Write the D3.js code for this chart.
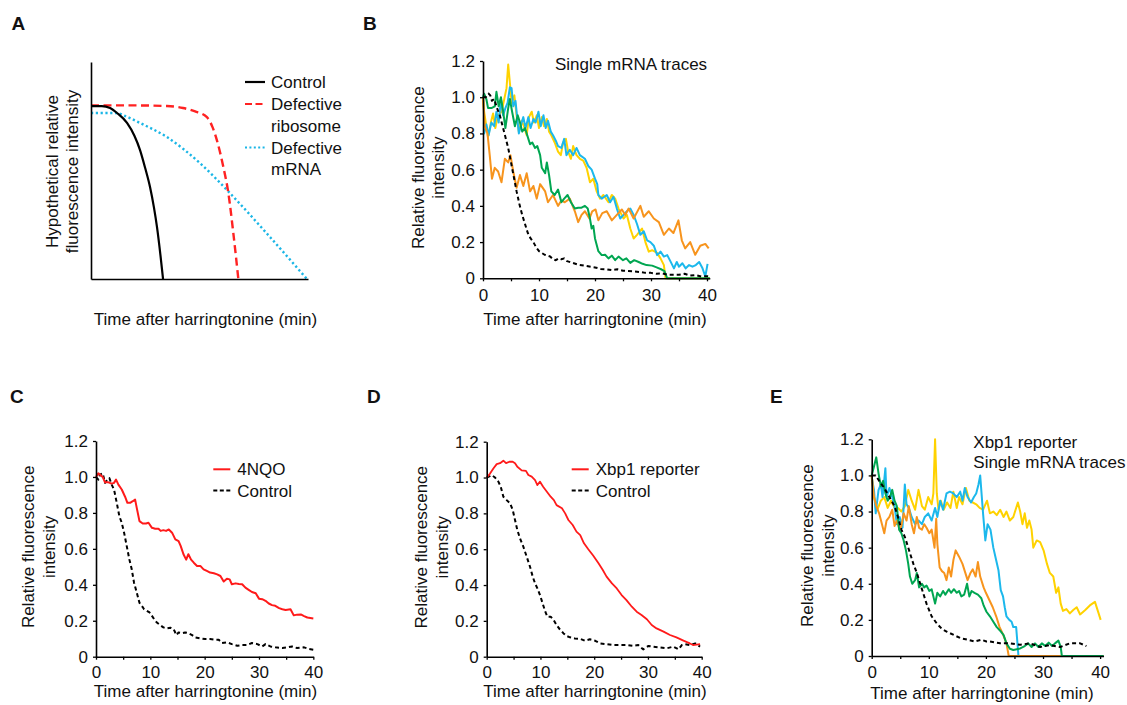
<!DOCTYPE html>
<html>
<head>
<meta charset="utf-8">
<script src="https://cdn.jsdelivr.net/npm/d3@7"></script>
<style>
  body { margin: 0; background: #fff; }
  svg text { font-family: "Liberation Sans", Arial, sans-serif; fill: #111; }
</style>
</head>
<body>
<svg id="fig" width="1127" height="705"></svg>
<script>
// ---- data ----
// panel A (hypothetical curves, x in % of time axis, y relative)
const aControl  = [[0,0.797],[5,0.797],[8.8,0.788],[12,0.765],[16.6,0.719],[20,0.66],[22.6,0.594],[25,0.51],[27.2,0.424],[29,0.33],[30.4,0.24],[32,0.11],[33.2,0]];
const aRibosome = [[0,0.8],[19.6,0.8],[35,0.797],[42.4,0.788],[48,0.772],[53.3,0.747],[56,0.70],[58,0.64],[61,0.516],[63.3,0.396],[65.6,0.21],[67.9,0]];
const aMRNA     = [[0,0.765],[11.9,0.765],[16,0.75],[22.6,0.719],[35,0.654],[50.2,0.534],[64,0.396],[81,0.21],[99.5,0]];
const aLegend   = ['Control', 'Defective', 'ribosome', 'Defective', 'mRNA'];

// panel B single traces [min, rel. intensity]
const bControl = [[0,1.0],[0.5,1.0],[1,1.02],[1.3,1.01],[1.6,0.98],[2,0.99],[2.5,0.94],[3,0.9],[3.5,0.84],[4,0.78],[4.5,0.72],[5,0.64],[5.5,0.56],[6,0.48],[6.5,0.41],[7,0.35],[7.5,0.3],[8,0.25],[8.5,0.22],[9,0.2],[9.5,0.17],[10,0.15],[10.5,0.14],[11,0.13],[12,0.12],[12.5,0.105],[13,0.1],[13.5,0.11],[14,0.105],[14.5,0.11],[15,0.095],[16,0.085],[17,0.075],[18,0.07],[19,0.065],[20,0.06],[21,0.052],[22,0.05],[23,0.045],[24,0.05],[25,0.042],[26,0.04],[27,0.038],[28,0.035],[29,0.03],[30,0.03],[31,0.025],[32,0.027],[33,0.02],[34,0.02],[35,0.02],[36,0.025],[37,0.015],[38,0.018],[39,0.01],[40,0.012],[40.5,0.01]];
const bOrange = [[0,1.0],[0.3,0.84],[0.8,0.80],[1.2,0.68],[1.6,0.55],[2.1,0.61],[2.7,0.59],[3.3,0.53],[3.9,0.66],[4.5,0.64],[4.9,0.68],[5.4,0.59],[6.0,0.50],[6.6,0.57],[7.2,0.51],[7.8,0.58],[8.4,0.48],[9.0,0.51],[9.6,0.44],[10.2,0.52],[11.1,0.48],[11.6,0.42],[12.5,0.46],[13.4,0.40],[14.0,0.43],[14.6,0.42],[15.5,0.44],[16.4,0.37],[17.0,0.31],[17.6,0.35],[18.2,0.37],[19.0,0.33],[19.5,0.37],[20.1,0.38],[20.6,0.32],[21.3,0.36],[22.1,0.37],[23.0,0.32],[23.9,0.35],[24.8,0.38],[25.4,0.35],[26.0,0.385],[26.9,0.33],[28.1,0.40],[28.7,0.34],[29.6,0.37],[30.5,0.33],[31.4,0.31],[32.3,0.24],[33.2,0.275],[34.0,0.25],[34.9,0.32],[35.5,0.21],[36.1,0.165],[37.0,0.2],[37.9,0.13],[38.8,0.18],[39.7,0.19],[40.3,0.165]];
const bGreen = [[0,1.0],[0.2,1.02],[0.6,0.99],[0.9,0.94],[1.5,0.94],[2.1,0.95],[2.4,1.03],[2.8,0.95],[3.2,1.0],[3.6,0.92],[4.0,0.83],[4.5,0.94],[4.8,0.99],[5.2,0.92],[5.7,0.84],[6.2,0.90],[6.6,0.86],[7.0,0.81],[7.5,0.83],[8.1,0.77],[8.4,0.74],[8.8,0.75],[9.3,0.72],[9.7,0.73],[10.2,0.68],[10.5,0.61],[11.1,0.58],[11.4,0.64],[11.8,0.57],[12.2,0.48],[12.8,0.46],[13.4,0.49],[14.0,0.42],[14.5,0.44],[15.1,0.46],[15.7,0.42],[16.4,0.385],[17.0,0.39],[17.6,0.39],[18.2,0.40],[18.7,0.385],[19.1,0.33],[19.4,0.275],[19.7,0.29],[20.0,0.22],[20.6,0.15],[21.2,0.128],[21.8,0.13],[22.4,0.11],[23.0,0.125],[23.6,0.1],[24.2,0.12],[25.0,0.1],[25.6,0.11],[26.3,0.085],[27.0,0.1],[27.8,0.09],[28.5,0.08],[29.2,0.073],[30.2,0.07],[31.0,0.06],[31.8,0.05],[32.4,0.04],[32.9,0],[40.5,0]];
const bYellow = [[0,1.0],[0.2,0.92],[0.5,0.86],[0.9,0.78],[1.4,0.86],[1.8,0.91],[2.2,0.83],[2.7,0.90],[3.3,0.92],[3.8,0.99],[4.2,1.05],[4.5,1.18],[4.8,1.08],[5.1,0.97],[5.6,1.01],[6.0,0.90],[6.4,0.81],[6.9,0.87],[7.3,0.84],[7.8,0.79],[8.2,0.89],[8.7,0.92],[9.1,0.86],[9.6,0.90],[10.0,0.83],[10.5,0.89],[10.9,0.84],[11.4,0.88],[11.8,0.81],[12.2,0.79],[12.8,0.75],[13.4,0.70],[13.9,0.68],[14.3,0.75],[14.8,0.77],[15.2,0.70],[15.7,0.66],[16.1,0.73],[16.7,0.68],[17.3,0.66],[17.9,0.65],[18.5,0.61],[19.1,0.53],[19.7,0.55],[20.3,0.48],[20.9,0.44],[21.5,0.46],[22.4,0.42],[23.0,0.46],[23.6,0.44],[24.2,0.385],[25.1,0.33],[25.7,0.35],[26.3,0.275],[26.9,0.22],[27.5,0.24],[28.4,0.275],[29.0,0.2],[29.6,0.147],[30.2,0.155],[31.1,0.14],[31.7,0.11],[32.3,0.073],[32.6,0],[40.5,0]];
const bCyan = [[0,0.8],[0.2,0.80],[0.6,0.85],[1.0,0.79],[1.5,0.86],[2.0,0.84],[2.4,0.92],[2.8,0.86],[3.2,0.99],[3.6,0.90],[4.0,0.94],[4.4,0.97],[4.8,1.055],[5.1,1.05],[5.4,0.95],[5.8,0.98],[6.2,0.86],[6.4,0.80],[6.9,0.86],[7.2,0.89],[7.6,0.83],[8.1,0.89],[8.5,0.83],[9.0,0.88],[9.4,0.86],[9.9,0.92],[10.3,0.84],[10.8,0.90],[11.2,0.83],[11.6,0.87],[12.1,0.81],[12.5,0.79],[13.0,0.76],[13.4,0.73],[14.0,0.72],[14.5,0.77],[14.9,0.68],[15.5,0.71],[16.1,0.68],[16.7,0.72],[17.3,0.68],[18.2,0.66],[18.8,0.62],[19.4,0.60],[20.0,0.55],[20.4,0.52],[20.6,0.46],[21.2,0.44],[22.1,0.46],[22.7,0.42],[23.3,0.45],[23.9,0.385],[24.5,0.33],[25.1,0.35],[25.7,0.37],[26.3,0.385],[26.9,0.35],[27.5,0.30],[28.1,0.24],[28.7,0.26],[29.3,0.21],[29.9,0.2],[30.5,0.18],[31.1,0.128],[31.7,0.147],[32.3,0.12],[32.9,0.128],[33.5,0.092],[34.1,0.055],[34.6,0.09],[35.0,0.064],[35.6,0.083],[36.2,0.055],[36.8,0.073],[37.4,0.064],[38.0,0.073],[38.6,0.09],[39.2,0.055],[39.7,0.01],[40.1,0.08]];

// panel C averages
const c4NQO = [[0,1.0],[0.43,1.02],[0.86,1.01],[1.23,1.0],[1.66,0.97],[2.28,0.97],[2.89,0.963],[3.32,0.967],[3.69,0.985],[4.12,0.957],[4.74,0.93],[5.35,0.89],[5.78,0.856],[6.28,0.856],[6.77,0.865],[7.2,0.874],[7.5,0.828],[8.0,0.754],[8.6,0.741],[9.2,0.741],[9.66,0.745],[10.3,0.717],[10.9,0.712],[11.5,0.712],[11.9,0.70],[12.4,0.704],[12.9,0.70],[13.4,0.708],[14.0,0.69],[14.6,0.653],[15.2,0.643],[15.6,0.615],[16.1,0.57],[16.6,0.54],[17.0,0.57],[17.5,0.54],[18.0,0.523],[18.6,0.505],[19.2,0.505],[19.8,0.486],[20.4,0.477],[21.0,0.468],[21.7,0.464],[22.3,0.458],[22.9,0.449],[23.5,0.418],[24.1,0.434],[24.6,0.43],[25.0,0.403],[25.7,0.408],[26.3,0.405],[26.9,0.403],[27.5,0.384],[28.1,0.372],[28.7,0.36],[29.4,0.353],[30.0,0.323],[30.6,0.32],[31.2,0.311],[31.8,0.296],[32.4,0.287],[33.0,0.283],[33.7,0.27],[34.3,0.264],[34.9,0.26],[35.8,0.264],[36.4,0.23],[37.0,0.234],[37.7,0.235],[38.3,0.226],[38.9,0.218],[40.0,0.213]];
const cControl = [[0,1.0],[0.43,0.985],[0.74,1.013],[1.23,1.02],[1.66,0.967],[2.09,0.985],[2.46,0.994],[2.89,0.957],[3.32,0.93],[3.82,0.856],[4.31,0.78],[4.74,0.745],[5.17,0.69],[5.66,0.615],[6.15,0.54],[6.58,0.486],[7.0,0.412],[7.5,0.357],[8.0,0.30],[8.43,0.283],[8.86,0.264],[9.35,0.255],[9.85,0.246],[10.3,0.227],[10.7,0.209],[11.2,0.19],[11.8,0.176],[12.4,0.163],[13.0,0.157],[13.7,0.161],[14.3,0.153],[14.8,0.12],[15.2,0.135],[15.8,0.131],[16.4,0.135],[17.0,0.131],[17.7,0.12],[18.3,0.107],[19.2,0.102],[20.1,0.098],[21.0,0.098],[22.0,0.094],[22.6,0.094],[23.2,0.076],[24.1,0.08],[25.0,0.07],[26.0,0.061],[26.9,0.065],[27.8,0.065],[28.7,0.076],[29.7,0.07],[30.6,0.057],[31.2,0.07],[32.1,0.057],[33.0,0.052],[34.3,0.048],[35.2,0.052],[36.1,0.057],[37.0,0.048],[38.3,0.052],[39.2,0.043],[40.0,0.039]];

// panel D averages
const dXbp1 = [[0,1.0],[0.62,1.022],[1.24,1.05],[1.86,1.075],[2.48,1.08],[3.1,1.094],[3.6,1.08],[4.22,1.088],[4.84,1.088],[5.27,1.08],[5.7,1.06],[6.5,1.04],[7.3,1.037],[7.75,1.014],[8.37,1.005],[9.0,0.986],[9.43,0.958],[9.92,0.977],[10.5,0.949],[11.2,0.921],[11.9,0.893],[12.5,0.874],[13.0,0.846],[14.0,0.828],[14.6,0.80],[15.2,0.763],[16.0,0.735],[16.7,0.698],[17.4,0.679],[18.1,0.633],[18.9,0.6],[19.8,0.565],[20.8,0.521],[21.6,0.484],[22.3,0.447],[23.3,0.409],[24.2,0.381],[25.1,0.344],[26.0,0.316],[27.0,0.279],[27.9,0.251],[28.8,0.233],[29.8,0.209],[30.7,0.177],[31.6,0.158],[32.9,0.14],[34.1,0.121],[35.3,0.108],[36.6,0.09],[37.8,0.074],[38.4,0.065],[39.7,0.07]];
const dControl = [[0,1.0],[0.93,1.013],[1.55,1.0],[2.17,0.977],[2.6,0.95],[3.1,0.893],[3.72,0.874],[4.34,0.856],[4.84,0.819],[5.27,0.763],[5.7,0.707],[6.2,0.66],[6.82,0.614],[7.44,0.558],[8.06,0.502],[8.56,0.447],[9.0,0.409],[9.43,0.381],[9.92,0.344],[10.4,0.298],[10.9,0.251],[11.3,0.223],[11.9,0.223],[12.4,0.208],[13.0,0.177],[13.6,0.153],[14.3,0.13],[14.9,0.115],[15.5,0.108],[16.4,0.102],[17.4,0.10],[18.3,0.089],[19.2,0.097],[20.2,0.089],[21.1,0.074],[22.3,0.07],[23.6,0.065],[24.8,0.065],[26.0,0.065],[27.3,0.06],[28.2,0.065],[29.1,0.041],[30.1,0.06],[31.0,0.056],[32.2,0.052],[33.5,0.047],[34.7,0.056],[35.7,0.041],[36.3,0.065],[36.9,0.07],[37.8,0.065],[38.8,0.074],[39.7,0.056]];

// panel E single traces
const eControl = [[0,1.0],[0.7,1.0],[1.3,0.97],[2.2,0.93],[3.1,0.88],[4.0,0.83],[4.6,0.77],[5.2,0.70],[5.8,0.66],[6.4,0.60],[7.3,0.51],[7.9,0.46],[8.5,0.40],[9.0,0.35],[9.6,0.29],[10.5,0.22],[11.4,0.18],[12.3,0.15],[13.2,0.134],[14.4,0.116],[15.6,0.098],[16.8,0.09],[18.0,0.08],[19.2,0.09],[20.1,0.08],[20.7,0.08],[22.5,0.07],[24.2,0.07],[26.0,0.062],[27.7,0.07],[29.5,0.05],[31.2,0.06],[33.0,0.05],[34.7,0.07],[36.5,0.07],[37.6,0.055]];
const eYellow = [[0,1.0],[0.4,0.88],[1.0,0.81],[1.6,0.86],[2.2,0.88],[2.8,0.82],[3.4,0.86],[4.0,0.82],[4.6,0.82],[5.2,0.80],[5.8,0.83],[6.4,0.92],[7.0,0.86],[7.6,0.81],[8.2,0.92],[8.8,0.83],[9.3,0.81],[9.9,0.88],[10.5,0.84],[10.8,0.9],[11.1,1.2],[11.4,0.9],[11.7,0.81],[12.1,0.86],[12.6,0.81],[13.2,0.85],[13.8,0.82],[14.3,0.91],[14.9,0.82],[15.3,0.88],[15.9,0.84],[16.5,0.93],[17.1,0.86],[17.7,0.85],[18.3,0.84],[18.9,0.82],[19.5,0.81],[20.2,0.86],[20.7,0.79],[21.3,0.8],[21.9,0.78],[22.5,0.81],[23.1,0.77],[23.6,0.8],[24.2,0.75],[24.8,0.77],[25.6,0.85],[26.0,0.8],[26.4,0.73],[26.8,0.79],[27.2,0.71],[27.6,0.75],[28.0,0.70],[28.3,0.60],[28.9,0.64],[29.5,0.63],[30.1,0.585],[30.7,0.51],[31.2,0.46],[31.8,0.44],[32.3,0.35],[32.7,0.38],[33.1,0.29],[33.5,0.25],[34.1,0.26],[34.7,0.236],[35.3,0.255],[35.9,0.27],[36.5,0.23],[37.4,0.255],[38.2,0.28],[39.1,0.30],[39.7,0.24],[40.1,0.2]];
const eCyan = [[0,0.99],[0.4,0.92],[0.7,0.79],[1.2,0.92],[1.6,0.95],[1.9,0.88],[2.4,1.04],[2.6,0.88],[3.1,0.93],[3.6,0.88],[4.0,0.83],[4.4,0.73],[4.9,0.77],[5.4,0.71],[5.8,0.95],[6.1,0.84],[6.5,0.82],[7.0,0.77],[7.6,0.73],[8.2,0.75],[8.8,0.73],[9.3,0.77],[9.9,0.79],[10.5,0.75],[11.1,0.82],[11.5,0.77],[12.0,0.86],[12.5,0.81],[13.1,0.90],[13.7,0.91],[14.3,0.90],[14.9,0.88],[15.5,0.91],[15.9,0.86],[16.3,0.93],[16.8,0.88],[17.4,0.85],[17.9,0.88],[18.3,0.90],[18.7,0.95],[19.0,1.0],[19.5,0.79],[19.9,0.64],[20.3,0.73],[20.8,0.70],[21.3,0.60],[21.8,0.53],[22.2,0.475],[22.6,0.365],[23.0,0.33],[23.3,0.27],[23.6,0.22],[24.1,0.2],[24.5,0.19],[24.8,0.16],[25.3,0.16],[25.7,0],[40.6,0]];
const eOrange = [[0,1.0],[0.4,0.88],[0.8,0.83],[1.3,0.79],[1.8,0.73],[2.2,0.68],[2.6,0.75],[3.1,0.77],[3.6,0.81],[4.0,0.72],[4.4,0.75],[4.9,0.70],[5.2,0.72],[5.6,0.79],[6.1,0.75],[6.5,0.83],[7.0,0.73],[7.4,0.68],[7.9,0.77],[8.3,0.71],[8.8,0.70],[9.2,0.73],[9.6,0.71],[10.1,0.68],[10.5,0.70],[11.0,0.60],[11.3,0.76],[11.5,0.62],[11.9,0.49],[12.3,0.47],[12.7,0.46],[13.1,0.42],[13.5,0.49],[13.9,0.44],[14.3,0.53],[14.7,0.585],[15.3,0.55],[15.9,0.51],[16.3,0.47],[16.8,0.42],[17.3,0.46],[17.7,0.48],[18.2,0.44],[18.6,0.52],[19.0,0.44],[19.6,0.38],[20.0,0.35],[20.6,0.31],[21.2,0.27],[21.8,0.22],[22.4,0.16],[23.0,0.12],[23.6,0.07],[24.0,0],[40.6,0]];
const eGreen = [[0,1.0],[0.4,1.05],[0.8,1.10],[1.2,1.01],[1.6,0.94],[2.0,0.97],[2.4,0.90],[2.8,0.86],[3.2,0.88],[3.6,0.92],[4.0,0.86],[4.4,0.83],[4.8,0.70],[5.2,0.68],[5.6,0.64],[6.0,0.585],[6.4,0.51],[6.7,0.44],[7.1,0.40],[7.6,0.42],[7.9,0.46],[8.3,0.38],[8.8,0.40],[9.2,0.38],[9.6,0.39],[10.1,0.36],[10.5,0.37],[11.1,0.29],[11.5,0.35],[12.0,0.33],[12.5,0.36],[12.9,0.34],[13.5,0.37],[13.9,0.35],[14.4,0.37],[14.9,0.35],[15.3,0.36],[15.7,0.33],[16.2,0.34],[16.7,0.40],[17.1,0.33],[17.5,0.36],[18.0,0.35],[18.6,0.34],[19.2,0.32],[19.6,0.28],[20.1,0.245],[20.7,0.22],[21.3,0.19],[21.9,0.16],[22.5,0.14],[23.1,0.116],[23.6,0.07],[24.2,0.04],[24.8,0.033],[26.0,0.042],[26.8,0.055],[27.4,0.07],[28.0,0.05],[28.6,0.07],[29.2,0.05],[29.8,0.07],[30.4,0.055],[31.0,0.074],[31.6,0.055],[32.1,0.07],[32.7,0.085],[33.1,0.05],[33.3,0],[40.6,0]];

const xTickVals = [0, 5, 10, 15, 20, 25, 30, 35, 40];
const yTickVals = [0, 0.2, 0.4, 0.6, 0.8, 1.0, 1.2];
const xTitle = 'Time after harringtonine (min)';
const yTitle = ['Relative fluorescence', 'intensity'];

const ORANGE = '#f7941d', GREEN = '#00a651', YELLOW = '#ffd200', CYAN = '#1cb8ec', RED = '#ff1a1a';

// ---- drawing ----
const svg = d3.select('#fig');
const FS = 17;

function styleAxis(g) {
  g.attr('font-size', FS).attr('font-family', '"Liberation Sans", Arial, sans-serif');
  g.selectAll('path.domain').attr('stroke', '#000').attr('stroke-width', 1.6);
  g.selectAll('.tick line').attr('stroke', '#000').attr('stroke-width', 1.3);
  g.selectAll('.tick text').attr('fill', '#111');
}

function letter(t, x, y) {
  svg.append('text').attr('x', x).attr('y', y).attr('font-size', 19)
    .attr('font-weight', 'bold').text(t);
}

function yLabel(lines, xs, cy) {
  lines.forEach((s, i) => {
    svg.append('text').attr('transform', `translate(${xs[i]},${cy}) rotate(-90)`)
      .attr('text-anchor', 'middle').attr('font-size', FS).text(s);
  });
}

function tracePanel(p) {
  const x = d3.scaleLinear().domain([0, p.xmax]).range([p.left, p.left + p.xmax * p.pxPerMin]);
  const y = d3.scaleLinear().domain([0, 1.2]).range([p.bottom, p.top]);
  const line = d3.line().x(d => x(d[0])).y(d => y(d[1]));
  const g = svg.append('g');

  p.series.forEach(s => {
    g.append('path').datum(s.data).attr('d', line)
      .attr('fill', 'none').attr('stroke', s.color)
      .attr('stroke-width', s.width || 2)
      .attr('stroke-dasharray', s.dash || null)
      .attr('stroke-linejoin', 'round');
  });

  const gx = g.append('g').attr('transform', `translate(0,${p.bottom})`)
    .call(d3.axisBottom(x).tickValues(xTickVals).tickFormat(d => d % 10 ? '' : d)
      .tickSize(3).tickSizeOuter(0).tickPadding(p.tickPad || 6.6));
  styleAxis(gx);
  const gy = g.append('g').attr('transform', `translate(${p.left},0)`)
    .call(d3.axisLeft(y).tickValues(yTickVals).tickFormat(d => d === 0 ? '0' : d3.format('.1f')(d))
      .tickSize(3).tickSizeOuter(0).tickPadding(5));
  styleAxis(gy);

  svg.append('text').attr('x', p.left + (p.labelDx || 112)).attr('y', p.bottom + p.titleDy)
    .attr('text-anchor', 'middle').attr('font-size', FS).text(xTitle);
  yLabel(yTitle, p.yLabelX, (p.top + p.bottom) / 2 - 2);

  if (p.legend) {
    p.legend.forEach((l, i) => {
      const cy = p.legendY + i * 21.3;
      svg.append('line').attr('x1', p.legendX).attr('x2', p.legendX + 17)
        .attr('y1', cy).attr('y2', cy).attr('stroke', l.color).attr('stroke-width', 2)
        .attr('stroke-dasharray', l.dash || null);
      svg.append('text').attr('x', p.legendX + 24).attr('y', cy + 6)
        .attr('font-size', FS).text(l.name);
    });
  }
  if (p.note) {
    p.note.forEach((s, i) => {
      svg.append('text').attr('x', p.noteX).attr('y', p.noteY + i * 20)
        .attr('font-size', FS).text(s);
    });
  }
}

// panel A
(function () {
  const left = 91, right = 308, top = 62, bottom = 279;
  const x = d3.scaleLinear().domain([0, 100]).range([left, right]);
  const y = d3.scaleLinear().domain([0, 1]).range([bottom, top]);
  const line = d3.line().x(d => x(d[0])).y(d => y(d[1])).curve(d3.curveMonotoneX);
  const g = svg.append('g');
  const curves = [
    { data: aMRNA, color: '#1ab6e6', dash: '2.2,2.6', w: 2.4 },
    { data: aRibosome, color: '#ff2222', dash: '8,4.5', w: 2.4 },
    { data: aControl, color: '#000', dash: null, w: 2.2 }
  ];
  curves.forEach(c => {
    g.append('path').datum(c.data).attr('d', line).attr('fill', 'none')
      .attr('stroke', c.color).attr('stroke-width', c.w).attr('stroke-dasharray', c.dash);
  });
  const gx = g.append('g').attr('transform', `translate(0,${bottom})`)
    .call(d3.axisBottom(x).ticks(0).tickSizeOuter(0));
  styleAxis(gx);
  const gy = g.append('g').attr('transform', `translate(${left},0)`)
    .call(d3.axisLeft(y).ticks(0).tickSizeOuter(0));
  styleAxis(gy);

  svg.append('text').attr('x', 205.5).attr('y', 325).attr('text-anchor', 'middle')
    .attr('font-size', FS).text(xTitle);
  yLabel(['Hypothetical relative', 'fluorescence intensity'], [57.5, 78], 171.5);

  const legRows = [82, 104, 126, 147.5, 169];
  const legStyle = [
    { color: '#000', dash: null }, { color: '#ff2222', dash: '7,3.5' }, null,
    { color: '#1ab6e6', dash: '2,2.4' }, null
  ];
  aLegend.forEach((s, i) => {
    if (legStyle[i]) {
      svg.append('line').attr('x1', 245).attr('x2', 265).attr('y1', legRows[i]).attr('y2', legRows[i])
        .attr('stroke', legStyle[i].color).attr('stroke-width', 2.2)
        .attr('stroke-dasharray', legStyle[i].dash);
    }
    svg.append('text').attr('x', 271).attr('y', legRows[i] + 6).attr('font-size', FS).text(s);
  });
})();

// panel B
tracePanel({
  left: 483, top: 61, bottom: 278.3, xmax: 40.5, pxPerMin: 5.6,
  yLabelX: [423.5, 443.5], labelDx: 112, titleDy: 46.5, tickPad: 7.5,
  series: [
    { data: bYellow, color: YELLOW },
    { data: bCyan, color: CYAN },
    { data: bOrange, color: ORANGE },
    { data: bGreen, color: GREEN },
    { data: bControl, color: '#000', dash: '4,3' }
  ],
  note: ['Single mRNA traces'], noteX: 555, noteY: 70
});

// panel C
tracePanel({
  left: 96, top: 441, bottom: 656.7, xmax: 40, pxPerMin: 5.433,
  yLabelX: [34, 55], labelDx: 109.5, titleDy: 40.5,
  series: [
    { data: cControl, color: '#000', dash: '4,3' },
    { data: c4NQO, color: RED }
  ],
  legend: [{ name: '4NQO', color: RED }, { name: 'Control', color: '#000', dash: '4,2.5' }],
  legendX: 213.3, legendY: 469.3
});

// panel D
tracePanel({
  left: 486.7, top: 441.7, bottom: 656.7, xmax: 40, pxPerMin: 5.375,
  yLabelX: [427, 448], labelDx: 108.3, titleDy: 40.5,
  series: [
    { data: dControl, color: '#000', dash: '4,3' },
    { data: dXbp1, color: RED, width: 1.8 }
  ],
  legend: [{ name: 'Xbp1 reporter', color: RED }, { name: 'Control', color: '#000', dash: '4,2.5' }],
  legendX: 571.7, legendY: 469.3
});

// panel E
tracePanel({
  left: 871.7, top: 439.3, bottom: 656, xmax: 40.6, pxPerMin: 5.71,
  yLabelX: [813, 834], labelDx: 110.3, titleDy: 42.5,
  series: [
    { data: eYellow, color: YELLOW },
    { data: eCyan, color: CYAN },
    { data: eOrange, color: ORANGE },
    { data: eGreen, color: GREEN },
    { data: eControl, color: '#000', dash: '4,3' }
  ],
  note: ['Xbp1 reporter', 'Single mRNA traces'], noteX: 973.3, noteY: 448.3
});

letter('A', 11.5, 30);
letter('B', 363, 30);
letter('C', 10, 403.3);
letter('D', 367, 403.3);
letter('E', 770, 403.3);
</script>
</body>
</html>
